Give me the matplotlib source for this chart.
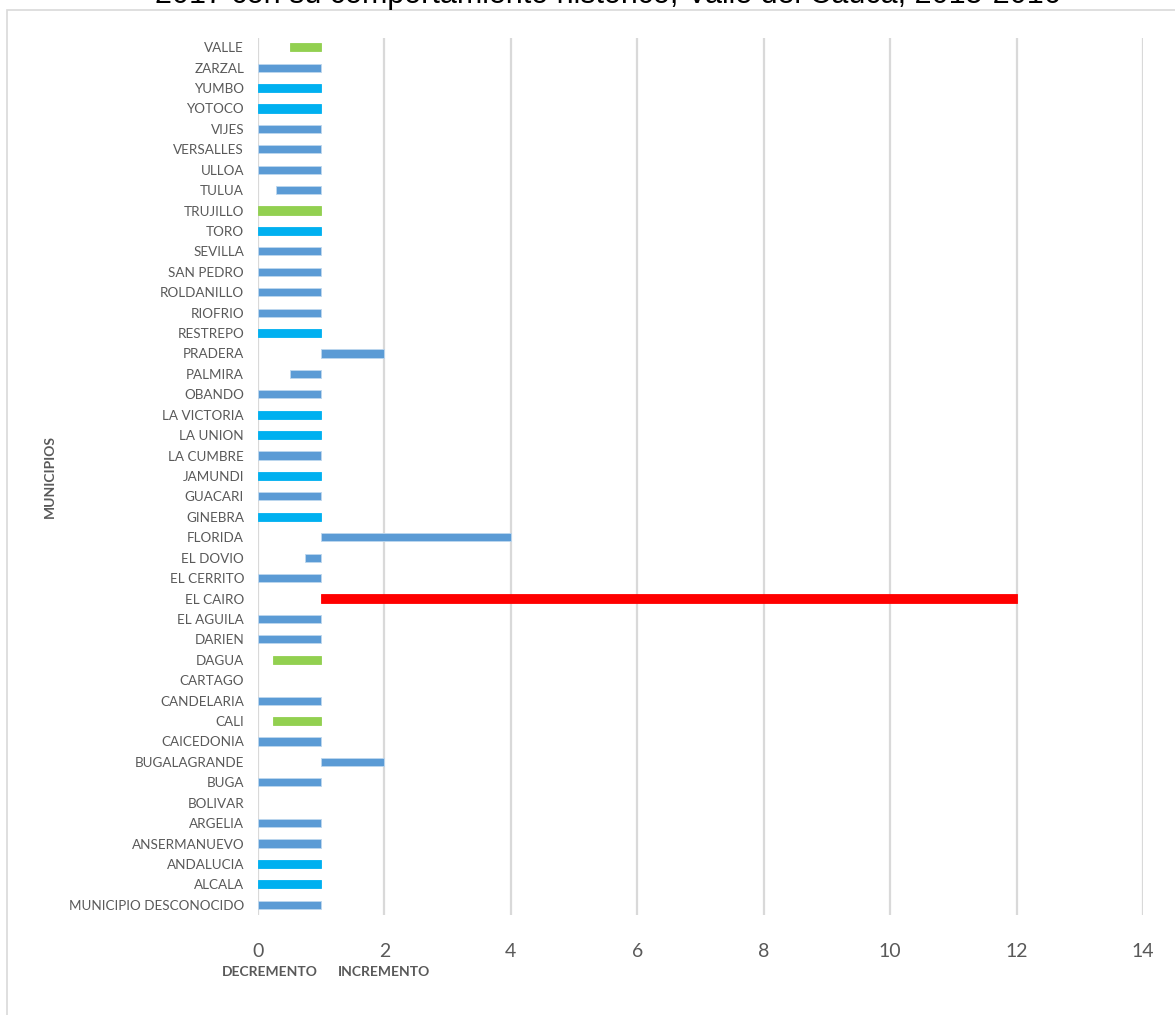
import matplotlib
matplotlib.use("Agg")
import matplotlib.pyplot as plt
from matplotlib.patches import Rectangle

# categories from bottom to top, as drawn
municipios = [
    "MUNICIPIO DESCONOCIDO", "ALCALA", "ANDALUCIA", "ANSERMANUEVO", "ARGELIA",
    "BOLIVAR", "BUGA", "BUGALAGRANDE", "CAICEDONIA", "CALI", "CANDELARIA",
    "CARTAGO", "DAGUA", "DARIEN", "EL AGUILA", "EL CAIRO", "EL CERRITO",
    "EL DOVIO", "FLORIDA", "GINEBRA", "GUACARI", "JAMUNDI", "LA CUMBRE",
    "LA UNION", "LA VICTORIA", "OBANDO", "PALMIRA", "PRADERA", "RESTREPO",
    "RIOFRIO", "ROLDANILLO", "SAN PEDRO", "SEVILLA", "TORO", "TRUJILLO",
    "TULUA", "ULLOA", "VERSALLES", "VIJES", "YOTOCO", "YUMBO", "ZARZAL", "VALLE",
]
razon = [
    0, 0, 0, 0, 0,
    1, 0, 2, 0, 0.23, 0,
    1, 0.23, 0, 0, 12, 0,
    0.75, 4, 0, 0, 0, 0,
    0, 0, 0, 0.5, 2, 0,
    0, 0, 0, 0, 0, 0,
    0.28, 0, 0, 0, 0, 0, 0, 0.5,
]
# s = steel blue, b = bright blue, g = green, r = red
grupo = [
    "s", "b", "b", "s", "s",
    "s", "s", "s", "s", "g", "s",
    "s", "g", "s", "s", "r", "s",
    "s", "s", "b", "s", "b", "s",
    "b", "b", "s", "s", "s", "b",
    "s", "s", "s", "s", "b", "g",
    "s", "s", "s", "s", "b", "b", "s", "g",
]
colores = {"s": "#5B9BD5", "b": "#00B0F0", "g": "#92D050", "r": "#FF0000"}

titulo = "2017 con su comportamiento histórico, Valle del Cauca, 2015-2016"
xticks = [0, 2, 4, 6, 8, 10, 12, 14]

plt.rcParams['font.family'] = ['Lato', 'DejaVu Sans']

fig = plt.figure(figsize=(11.75, 10.15), dpi=100)
ax = fig.add_axes([258 / 1175, 1 - 915 / 1015, 885 / 1175, 877 / 1015])

# chart frame (light gray border, partly off canvas)
fig.patches.append(Rectangle((7 / 1175, -0.1), 1.2, 1 - 10 / 1015 + 0.1,
                             transform=fig.transFigure, fill=False,
                             edgecolor="#D9D9D9", linewidth=1.2))

y = list(range(len(municipios)))
for i in y:
    if razon[i] == 1:
        continue
    c = colores[grupo[i]]
    ax.barh(i, razon[i] - 1, left=1, height=0.4, color=c,
            edgecolor="#BDD7EE" if grupo[i] == "s" else c, linewidth=0.6)

ax.set_xlim(0, 14)
ax.set_ylim(-0.5, 42.45)
ax.set_xticks(xticks)
ax.set_yticks(y)
ax.set_yticklabels(municipios, fontsize=9.75, color="#595959")
ax.tick_params(axis="x", labelsize=14, colors="#595959", length=0, pad=20)
ax.tick_params(axis="y", length=0, pad=10)
ax.grid(axis="x", color="#D9D9D9", linewidth=1.6)
ax.set_axisbelow(True)
for s in ax.spines.values():
    s.set_visible(False)

fig.text(50 / 1175, 1 - 477 / 1015, "MUNICIPIOS", rotation=90, fontsize=10,
         fontweight="bold", color="#595959", ha="center", va="center")
fig.text(270 / 1175, 1 - 972 / 1015, "DECREMENTO", fontsize=10,
         fontweight="bold", color="#595959", ha="center", va="center")
fig.text(384 / 1175, 1 - 972 / 1015, "INCREMENTO", fontsize=10,
         fontweight="bold", color="#595959", ha="center", va="center")
# title is partly cut off at the top edge, as in the reference
fig.text(608 / 1175, 1 - 3 / 1015, titulo, fontsize=22, family="Liberation Sans",
         color="black", ha="center", va="baseline")

fig.savefig("out.png", dpi=100)
